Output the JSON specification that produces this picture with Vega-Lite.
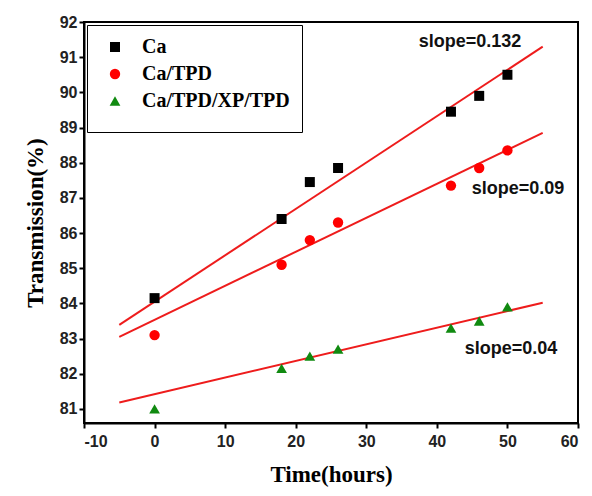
{
  "$schema": "https://vega.github.io/schema/vega-lite/v6.json",
  "width": 494,
  "height": 401,
  "autosize": "none",
  "padding": {"left": 84, "top": 22, "right": 14, "bottom": 73},
  "background": "white",
  "config": {
    "view": {"stroke": "black", "strokeWidth": 2},
    "axis": {
      "grid": false,
      "zindex": 1,
      "domain": true,
      "domainColor": "black",
      "domainWidth": 2,
      "ticks": true,
      "tickColor": "black",
      "tickWidth": 2,
      "tickSize": 5,
      "labelOverlap": false,
      "labelFont": "Liberation Sans",
      "labelFontWeight": "bold",
      "labelFontSize": 16,
      "labelColor": "#222",
      "titleFont": "Liberation Serif",
      "titleFontWeight": "bold",
      "titleFontSize": 23,
      "titleColor": "black"
    }
  },
  "datasets": {
    "points": [
      {"time": 0, "trans": 84.15, "series": "Ca"},
      {"time": 18, "trans": 86.4, "series": "Ca"},
      {"time": 22, "trans": 87.45, "series": "Ca"},
      {"time": 26, "trans": 87.85, "series": "Ca"},
      {"time": 42, "trans": 89.45, "series": "Ca"},
      {"time": 46, "trans": 89.9, "series": "Ca"},
      {"time": 50, "trans": 90.5, "series": "Ca"},
      {"time": 0, "trans": 83.1, "series": "Ca/TPD"},
      {"time": 18, "trans": 85.1, "series": "Ca/TPD"},
      {"time": 22, "trans": 85.8, "series": "Ca/TPD"},
      {"time": 26, "trans": 86.3, "series": "Ca/TPD"},
      {"time": 42, "trans": 87.35, "series": "Ca/TPD"},
      {"time": 46, "trans": 87.85, "series": "Ca/TPD"},
      {"time": 50, "trans": 88.35, "series": "Ca/TPD"},
      {"time": 0, "trans": 81.0, "series": "Ca/TPD/XP/TPD"},
      {"time": 18, "trans": 82.15, "series": "Ca/TPD/XP/TPD"},
      {"time": 22, "trans": 82.5, "series": "Ca/TPD/XP/TPD"},
      {"time": 26, "trans": 82.7, "series": "Ca/TPD/XP/TPD"},
      {"time": 42, "trans": 83.3, "series": "Ca/TPD/XP/TPD"},
      {"time": 46, "trans": 83.5, "series": "Ca/TPD/XP/TPD"},
      {"time": 50, "trans": 83.9, "series": "Ca/TPD/XP/TPD"}
    ],
    "fits": [
      {"time": -5, "trans": 83.39, "fit": "Ca"},
      {"time": 55, "trans": 91.3, "fit": "Ca"},
      {"time": -5, "trans": 83.05, "fit": "Ca/TPD"},
      {"time": 55, "trans": 88.85, "fit": "Ca/TPD"},
      {"time": -5, "trans": 81.18, "fit": "Ca/TPD/XP/TPD"},
      {"time": 55, "trans": 84.02, "fit": "Ca/TPD/XP/TPD"}
    ],
    "labels": [
      {"time": 44.7, "trans": 91.43, "text": "slope=0.132"},
      {"time": 51.5, "trans": 87.26, "text": "slope=0.09"},
      {"time": 50.5, "trans": 82.71, "text": "slope=0.04"}
    ]
  },
  "encoding": {
    "x": {
      "field": "time", "type": "quantitative",
      "scale": {"domain": [-10, 60], "nice": false},
      "axis": {"values": [-10, 0, 10, 20, 30, 40, 50, 60], "title": "Time(hours)", "labelPadding": 5, "titlePadding": 14, "labelExpr": "toString(datum.value)"}
    },
    "y": {
      "field": "trans", "type": "quantitative",
      "scale": {"domain": [80.6, 92], "nice": false, "zero": false},
      "axis": {"values": [81, 82, 83, 84, 85, 86, 87, 88, 89, 90, 91, 92], "tickCount": 12, "title": "Transmission(%)", "labelPadding": 2, "titlePadding": 12, "labelBound": false, "labelFlush": false}
    }
  },
  "layer": [
    {
      "data": {"name": "fits"},
      "mark": {"type": "line", "color": "#ee1c1c", "strokeWidth": 2, "clip": true},
      "encoding": {
        "detail": {"field": "fit"}
      }
    },
    {
      "data": {"name": "points"},
      "mark": {"type": "point", "filled": true, "opacity": 1},
      "encoding": {
        "color": {
          "field": "series", "type": "nominal",
          "scale": {"domain": ["Ca", "Ca/TPD", "Ca/TPD/XP/TPD"], "range": ["#000000", "#ff0000", "#108a10"]},
          "legend": {
            "title": " ",
            "titleOrient": "bottom",
            "titleFontSize": 6,
            "titlePadding": 3,
            "orient": "top-left",
            "offset": 3,
            "padding": 12,
            "strokeColor": "black",
            "fillColor": "white",
            "labelFont": "Liberation Serif",
            "labelFontWeight": "bold",
            "labelFontSize": 20,
            "labelColor": "black",
            "symbolSize": 130,
            "symbolOffset": 6,
            "rowPadding": 7,
            "labelOffset": 17,
            "symbolOpacity": 1
          }
        },
        "shape": {
          "field": "series", "type": "nominal",
          "scale": {"domain": ["Ca", "Ca/TPD", "Ca/TPD/XP/TPD"], "range": ["square", "circle", "triangle-up"]},
          "legend": null
        },
        "size": {
          "field": "series", "type": "nominal",
          "scale": {"domain": ["Ca", "Ca/TPD", "Ca/TPD/XP/TPD"], "range": [100, 115, 165]},
          "legend": null
        }
      }
    },
    {
      "data": {"name": "labels"},
      "mark": {"type": "text", "font": "Liberation Sans", "fontWeight": "bold", "fontSize": 18, "color": "#111"},
      "encoding": {
        "text": {"field": "text"}
      }
    }
  ]
}
